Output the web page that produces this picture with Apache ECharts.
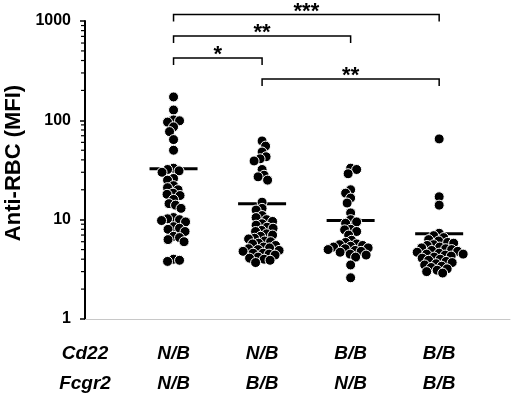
<!DOCTYPE html>
<html>
<head>
<meta charset="utf-8">
<script src="https://cdn.jsdelivr.net/npm/echarts@6/dist/echarts.min.js"></script>
<style>
  html, body { margin: 0; padding: 0; background: #fff; }
  #main { width: 520px; height: 396px; }
</style>
</head>
<body>
<div id="main"></div>
<script>
"use strict";

// 组别（横坐标位置）及下方标签
const groups = [1, 2, 3, 4];
const rowNames = ['Cd22', 'Fcgr2'];
const cd22Labels = ['N/B', 'N/B', 'B/B', 'B/B'];
const fcgr2Labels = ['N/B', 'B/B', 'N/B', 'B/B'];

// 各组 Anti-RBC (MFI) 数值
const groupNB_NB = [172, 127, 101, 99, 96, 86, 77, 64, 50,
    33, 32, 31, 30, 26, 25, 22, 21, 20, 18.5, 18, 17.5, 16, 14.5, 14, 13,
    10.5, 10.2, 10, 9.8, 9.5, 8.5, 8.2, 8, 7.6, 6.8, 6.6, 6.3, 6, 4, 3.9, 3.8];
const groupNB_BB = [62, 55, 48, 43, 41, 39, 32, 28, 27, 25,
    15, 13, 12.5, 11, 10.5,
    10, 9.6, 9.1, 8.8, 8.4, 8.2, 7.8, 7.6, 7.2, 7.0, 6.8, 6.5, 6.4, 6.1, 6.0,
    5.8, 5.7, 5.5, 5.3, 5.2, 5.1, 5.0, 4.9, 4.8, 4.6, 4.6, 4.5, 4.4, 4.2, 4.1, 4.0, 3.9, 3.7];
const groupBB_NB = [33, 32, 29, 20, 18.5, 16.5, 14.7, 11.7, 10, 9.5, 9.2, 8, 7.9, 7.6, 7,
    6.2, 5.9, 5.7, 5.6, 5.5, 5.4, 5.3, 5.2, 5.1, 5, 4.9, 4.8, 4.7, 4.5, 4.4, 4.2, 3.5, 2.6];
const groupBB_BB = [65, 17, 14, 7.3, 6.9, 6.6, 6.3, 6.1, 5.9, 5.8, 5.6, 5.5, 5.3, 5.2, 5.1,
    5, 4.9, 4.8, 4.7, 4.6, 4.5, 4.5, 4.4, 4.3, 4.2, 4.1, 4, 3.9, 3.8, 3.7, 3.6, 3.5,
    3.4, 3.3, 3.2, 3.1, 3.0, 2.9];
const groupValues = [groupNB_NB, groupNB_BB, groupBB_NB, groupBB_BB];

// 横线（均值）
const meanLines = [32.5, 14.5, 9.8, 7.2];

// 显著性标记 [起组, 止组, 高度, 星号]
const brackets = [
    [1, 4, 1160, '***'],
    [1, 3, 708, '**'],
    [1, 2, 425, '*'],
    [2, 4, 261, '**'],
];

// 对数轴次刻度
const minorTicks = [2, 3, 4, 5, 6, 7, 8, 9, 20, 30, 40, 50, 60, 70, 80, 90,
    200, 300, 400, 500, 600, 700, 800, 900];

const FONT = 'Liberation Sans, Arial, sans-serif';

let myChart = echarts.init(document.getElementById('main'), null, {renderer: 'canvas'});

let option = {
    animation: false,
    grid: {
        left: 85,
        top: 21,
        width: 425,
        bottom: 77,
        containLabel: false,
        outerBoundsMode: 'none',
    },
    xAxis: {
        type: 'value',
        min: 0,
        max: 4.8,
        interval: 1,
        axisLine: {
            show: true,
            lineStyle: { color: '#c8c8c8', width: 1 },
        },
        axisTick: { show: false },
        splitLine: { show: false },
        axisLabel: {
            margin: 20,
            color: '#000',
            fontFamily: FONT,
            fontSize: 19,
            fontWeight: 'bold',
            fontStyle: 'italic',
            lineHeight: 30,
            showMaxLabel: false,
            formatter: function (value) {
                if (value === 0) {
                    return rowNames[0] + '\n' + rowNames[1];
                }
                let i = groups.indexOf(value);
                if (i < 0) return '';
                return cd22Labels[i] + '\n' + fcgr2Labels[i];
            },
        },
    },
    yAxis: {
        type: 'log',
        logBase: 10,
        min: 1,
        max: 1000,
        position: 'left',
        name: 'Anti-RBC (MFI)',
        nameLocation: 'middle',
        nameGap: 52,
        nameTextStyle: {
            color: '#000',
            fontFamily: FONT,
            fontSize: 22,
            fontWeight: 'bold',
            padding: [0, 0, 0, 14],
        },
        axisLine: {
            show: true,
            lineStyle: { color: '#000', width: 2 },
        },
        axisTick: {
            show: true,
            length: 5,
            lineStyle: { color: '#000', width: 1.5 },
        },
        axisLabel: {
            margin: 14,
            color: '#000',
            fontFamily: FONT,
            fontSize: 16,
            fontWeight: 'bold',
            formatter: function (value) { return String(value); },
        },
        splitLine: { show: false },
    },
    series: [],
};

groupValues.forEach(function (vals, gi) {
    option.series.push({
        type: 'scatter',
        symbol: 'circle',
        symbolSize: 10,
        itemStyle: {
            color: '#000',
            borderColor: '#fff',
            borderWidth: 1,
            opacity: 1,
        },
        data: vals.map(function (v) { return [groups[gi], v]; }),
        z: 2,
    });
});

// 均值横线
option.series.push({
    type: 'scatter',
    symbol: 'rect',
    symbolSize: [48, 3],
    itemStyle: { color: '#000', opacity: 1 },
    data: meanLines.map(function (v, i) { return [groups[i], v]; }),
    z: 1,
});

// 显著性括号
option.series.push({
    type: 'custom',
    coordinateSystem: 'cartesian2d',
    clip: false,
    data: brackets.map(function (b) { return [b[0], b[1], b[2]]; }),
    renderItem: function (params, api) {
        let a = api.coord([api.value(0), api.value(2)]);
        let b = api.coord([api.value(1), api.value(2)]);
        let drop = 7;
        return {
            type: 'group',
            children: [
                {
                    type: 'polyline',
                    shape: {
                        points: [[a[0], a[1] + drop], [a[0], a[1]], [b[0], b[1]], [b[0], b[1] + drop]],
                    },
                    style: { stroke: '#000', lineWidth: 1.5, fill: null },
                },
                {
                    type: 'text',
                    x: (a[0] + b[0]) / 2,
                    y: a[1] + 8,
                    style: {
                        text: brackets[params.dataIndex][3],
                        align: 'center',
                        verticalAlign: 'bottom',
                        font: 'bold 22px ' + FONT,
                        fill: '#000',
                    },
                },
            ],
        };
    },
    z: 3,
});

// 对数轴次刻度（2~9 倍）
option.series.push({
    type: 'custom',
    coordinateSystem: 'cartesian2d',
    clip: false,
    silent: true,
    data: minorTicks.map(function (v) { return [0.5, v]; }),
    renderItem: function (params, api) {
        let p = api.coord([0, api.value(1)]);
        return {
            type: 'polyline',
            shape: { points: [[p[0] - 4, p[1]], [p[0] - 1, p[1]]] },
            style: { stroke: '#000', lineWidth: 1.2, fill: null },
        };
    },
    z: 3,
});

myChart.setOption(option);

// 蜂群排布：按像素避让，计算每个点的横向偏移
function swarm(values, g) {
    let gap = 6;
    let cx = myChart.convertToPixel({xAxisIndex: 0, yAxisIndex: 0}, [g, 1])[0];
    let unit = myChart.convertToPixel({xAxisIndex: 0, yAxisIndex: 0}, [g + 1, 1])[0] - cx;
    let placed = [];
    let out = new Array(values.length);
    let order = values.map(function (v, i) { return i; })
        .sort(function (a, b) { return values[b] - values[a]; });
    order.forEach(function (i, n) {
        let py = myChart.convertToPixel({xAxisIndex: 0, yAxisIndex: 0}, [g, values[i]])[1];
        let dx = 0;
        for (let k = 0; k < 60; k += 0.5) {
            let cands = n % 2 ? [k, -k] : [-k, k];
            let found = null;
            for (let c of cands) {
                let ok = placed.every(function (p) {
                    return (p[0] - c) * (p[0] - c) + (p[1] - py) * (p[1] - py) >= gap * gap;
                });
                if (ok) { found = c; break; }
            }
            if (found !== null) { dx = found; break; }
        }
        placed.push([dx, py]);
        out[i] = [g + dx / unit, values[i]];
    });
    return out;
}

myChart.setOption({
    series: groupValues.map(function (vals, gi) {
        return { data: swarm(vals, groups[gi]) };
    }),
});
</script>
</body>
</html>
